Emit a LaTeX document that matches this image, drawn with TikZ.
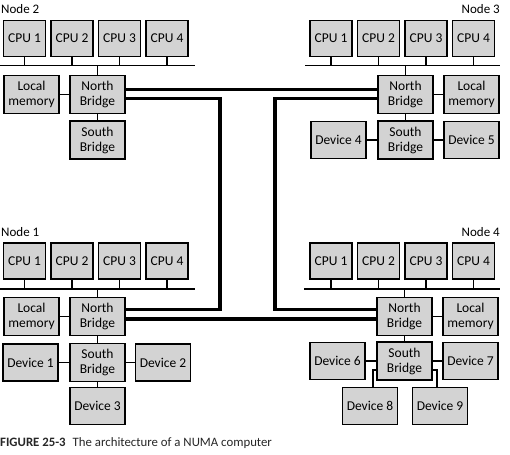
\documentclass[tikz,border=0pt]{standalone}
\usepackage{fontspec}
\setmainfont{Carlito}
\definecolor{boxgray}{RGB}{211,211,211}
\begin{document}
\begin{tikzpicture}[
    x=1pt, y=-1pt,
    font=\fontsize{13.5}{15}\selectfont,
    unit/.style={draw=black, line width=1.8pt, fill=boxgray, align=center, inner sep=0pt},
    cpubox/.style={unit, minimum width=42pt, minimum height=36pt},
    partbox/.style={unit, minimum width=55pt, minimum height=38pt},
    devbox/.style={unit, minimum width=55pt, minimum height=37pt},
    nodelabel/.style={inner sep=0pt, font=\fontsize{13}{15}\selectfont},
    wire/.style={line width=1.7pt},
    link/.style={line width=3.3pt},
]
    \useasboundingbox (0,0) rectangle (510,454);

    % ============= Node 2 =============
    \node[nodelabel, anchor=west] (lab2) at (1,9) {Node 2};
    \node[cpubox] (n2c1) at (24.5,38.5) {CPU 1};
    \node[cpubox] (n2c2) at (72,38.5) {CPU 2};
    \node[cpubox] (n2c3) at (119.5,38.5) {CPU 3};
    \node[cpubox] (n2c4) at (167,38.5) {CPU 4};
    \coordinate (bus2w) at (0,65.5);
    \coordinate (bus2e) at (195,65.5);
    \node[partbox] (n2lm) at (31.5,94.5) {Local\\memory};
    \node[partbox] (n2nb) at (97.5,94.5) {North\\Bridge};
    \node[partbox] (n2sb) at (97.5,140) {South\\Bridge};
    \draw[wire] (bus2w) -- (bus2e);
    \draw[wire] (n2c1) -- (n2c1 |- bus2w);
    \draw[wire] (n2c2) -- (n2c2 |- bus2w);
    \draw[wire] (n2c3) -- (n2c3 |- bus2w);
    \draw[wire] (n2c4) -- (n2c4 |- bus2w);
    \draw[wire] (n2nb) -- (n2nb |- bus2w);
    \draw[wire] (n2lm) -- (n2nb);
    \draw[wire] (n2nb) -- (n2sb);

    % ============= Node 3 =============
    \node[nodelabel, anchor=east] (lab3) at (500,9) {Node 3};
    \node[cpubox] (n3c1) at (331,38.5) {CPU 1};
    \node[cpubox] (n3c2) at (378.5,38.5) {CPU 2};
    \node[cpubox] (n3c3) at (426,38.5) {CPU 3};
    \node[cpubox] (n3c4) at (473.5,38.5) {CPU 4};
    \coordinate (bus3w) at (305,65.5);
    \coordinate (bus3e) at (500,65.5);
    \node[partbox] (n3nb) at (405.5,94.5) {North\\Bridge};
    \node[partbox] (n3lm) at (471.5,94.5) {Local\\memory};
    \node[devbox] (n3d4) at (338.5,140) {Device 4};
    \node[partbox] (n3sb) at (405.5,140) {South\\Bridge};
    \node[devbox] (n3d5) at (471.5,140) {Device 5};
    \draw[wire] (bus3w) -- (bus3e);
    \draw[wire] (n3c1) -- (n3c1 |- bus3w);
    \draw[wire] (n3c2) -- (n3c2 |- bus3w);
    \draw[wire] (n3c3) -- (n3c3 |- bus3w);
    \draw[wire] (n3c4) -- (n3c4 |- bus3w);
    \draw[wire] (n3nb) -- (n3nb |- bus3w);
    \draw[wire] (n3nb) -- (n3lm);
    \draw[wire] (n3nb) -- (n3sb);
    \draw[wire] (n3d4) -- (n3sb);
    \draw[wire] (n3sb) -- (n3d5);

    % ============= Node 1 =============
    \node[nodelabel, anchor=west] (lab1) at (1,232) {Node 1};
    \node[cpubox] (n1c1) at (24.5,261) {CPU 1};
    \node[cpubox] (n1c2) at (72,261) {CPU 2};
    \node[cpubox] (n1c3) at (119.5,261) {CPU 3};
    \node[cpubox] (n1c4) at (167,261) {CPU 4};
    \coordinate (bus1w) at (0,289);
    \coordinate (bus1e) at (195,289);
    \node[partbox] (n1lm) at (31.5,316.5) {Local\\memory};
    \node[partbox] (n1nb) at (97.5,316.5) {North\\Bridge};
    \node[devbox] (n1d1) at (30.5,362.5) {Device 1};
    \node[partbox] (n1sb) at (97.5,362.5) {South\\Bridge};
    \node[devbox] (n1d2) at (163,362.5) {Device 2};
    \node[devbox] (n1d3) at (97.5,406) {Device 3};
    \draw[wire] (bus1w) -- (bus1e);
    \draw[wire] (n1c1) -- (n1c1 |- bus1w);
    \draw[wire] (n1c2) -- (n1c2 |- bus1w);
    \draw[wire] (n1c3) -- (n1c3 |- bus1w);
    \draw[wire] (n1c4) -- (n1c4 |- bus1w);
    \draw[wire] (n1nb) -- (n1nb |- bus1w);
    \draw[wire] (n1lm) -- (n1nb);
    \draw[wire] (n1nb) -- (n1sb);
    \draw[wire] (n1d1) -- (n1sb);
    \draw[wire] (n1sb) -- (n1d2);
    \draw[wire] (n1sb) -- (n1d3);

    % ============= Node 4 =============
    \node[nodelabel, anchor=east] (lab4) at (500,232) {Node 4};
    \node[cpubox] (n4c1) at (331,261) {CPU 1};
    \node[cpubox] (n4c2) at (378.5,261) {CPU 2};
    \node[cpubox] (n4c3) at (426,261) {CPU 3};
    \node[cpubox] (n4c4) at (473.5,261) {CPU 4};
    \coordinate (bus4w) at (304,289);
    \coordinate (bus4e) at (500,289);
    \node[partbox] (n4nb) at (404.5,316.5) {North\\Bridge};
    \node[partbox] (n4lm) at (470.5,316.5) {Local\\memory};
    \node[devbox] (n4d6) at (337.5,361) {Device 6};
    \node[partbox] (n4sb) at (404.5,361) {South\\Bridge};
    \node[devbox] (n4d7) at (470.5,361) {Device 7};
    \node[devbox] (n4d8) at (370,406) {Device 8};
    \node[devbox] (n4d9) at (440,406) {Device 9};
    \draw[wire] (bus4w) -- (bus4e);
    \draw[wire] (n4c1) -- (n4c1 |- bus4w);
    \draw[wire] (n4c2) -- (n4c2 |- bus4w);
    \draw[wire] (n4c3) -- (n4c3 |- bus4w);
    \draw[wire] (n4c4) -- (n4c4 |- bus4w);
    \draw[wire] (n4nb) -- (n4nb |- bus4w);
    \draw[wire] (n4nb) -- (n4lm);
    \draw[wire] (n4nb) -- (n4sb);
    \draw[wire] (n4d6) -- (n4sb);
    \draw[wire] (n4sb) -- (n4d7);
    \draw[wire] ([yshift=-9pt]n4sb.west) -| ([xshift=3pt]n4d8.north);
    \draw[wire] ([yshift=-9pt]n4sb.east) -| ([xshift=-3pt]n4d9.north);

    % ============= Interconnect =============
    \coordinate (kneeL1) at (220,98.5);
    \coordinate (kneeL2) at (220,309.5);
    \coordinate (kneeR1) at (275,98.5);
    \coordinate (kneeR2) at (275,309.5);
    \draw[link] ([yshift=5pt]n2nb.east) -- ([yshift=5pt]n3nb.west);
    \draw[link] ([yshift=-4pt]n2nb.east) -- (kneeL1) -- (kneeL2) -- ([yshift=7pt]n1nb.east);
    \draw[link] ([yshift=-4pt]n3nb.west) -- (kneeR1) -- (kneeR2) -- ([yshift=7pt]n4nb.west);
    \draw[link] ([yshift=-2.5pt]n1nb.east) -- ([yshift=-2.5pt]n4nb.west);

    % Caption
    \node[anchor=west, inner sep=0pt, font=\fontsize{12.8}{15}\selectfont, text=black!85] (caption) at (0,443) {\textbf{FIGURE 25-3}\hspace{7pt}The architecture of a NUMA computer};
\end{tikzpicture}
\end{document}
